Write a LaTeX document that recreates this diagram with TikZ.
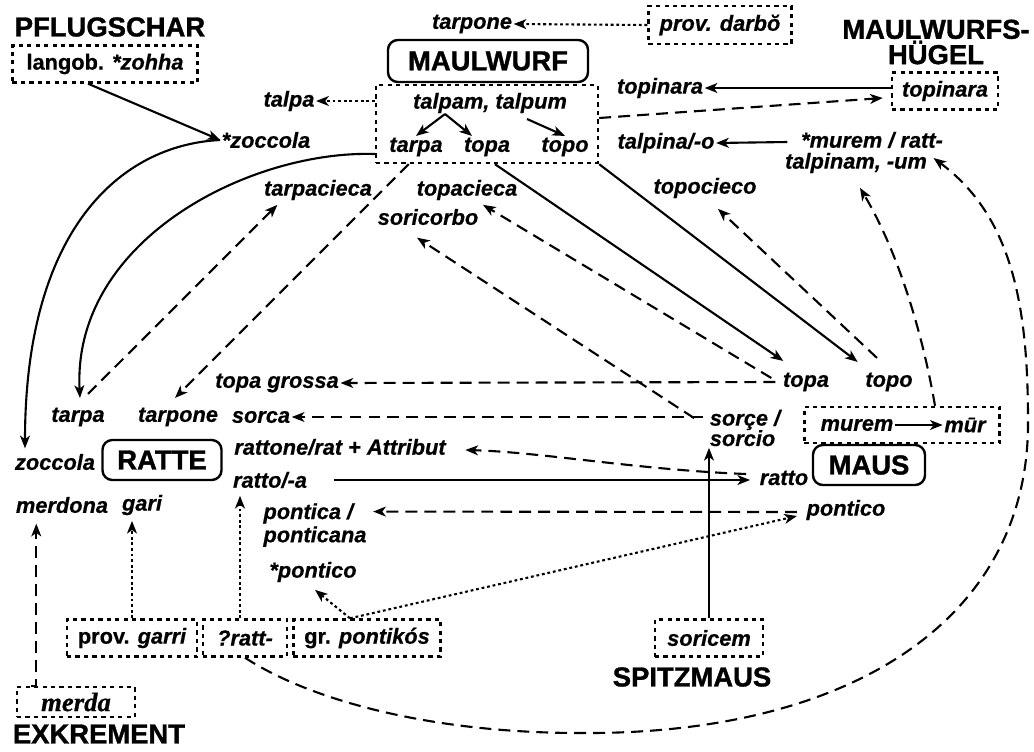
\documentclass[tikz,border=0pt]{standalone}
\usepackage{fontspec}
\setmainfont{Liberation Sans}
\newfontfamily\labelfont[FakeBold=0.6]{Liberation Sans}
\newfontfamily\headfont[FakeBold=1.2]{Liberation Sans}
\newfontfamily\serifit[FakeBold=0.6]{Liberation Serif}
\usetikzlibrary{arrows.meta,calc}

\begin{document}
\begin{tikzpicture}[x=0.025cm,y=-0.025cm,
  lbl/.style={font=\labelfont\bfseries\itshape\fontsize{15.5}{16.5}\selectfont, inner sep=1pt},
  head/.style={font=\headfont\bfseries\fontsize{19.5}{18}\selectfont, inner sep=0pt},
  wbox/.style={draw, line width=1.7pt, rounded corners=7pt, inner sep=0pt,
    font=\headfont\bfseries\fontsize{19.5}{22}\selectfont},
  dbox/.style={draw, line width=1.7pt, dash pattern=on 3pt off 3pt, inner sep=0pt,
    font=\labelfont\bfseries\fontsize{15.5}{16.5}\selectfont},
  arr/.style={line width=1.5pt, -{Stealth[length=9pt,width=7pt,inset=2.5pt]}},
  dasharr/.style={arr, dash pattern=on 8.5pt off 5pt},
  dotarr/.style={arr, dash pattern=on 2pt off 2pt}]
\useasboundingbox (0,0) rectangle (1034,751);

% headings
\node[head] (pflug) at (110,27) {PFLUGSCHAR};
\node[head, align=center] (huegel) at (936,42) {MAULWURFS-\\HÜGEL};
\node[head] (exkr) at (99,734) {EXKREMENT};
\node[head] (spitz) at (692,677) {SPITZMAUS};

% main words
\node[wbox, minimum width=5cm, minimum height=1.05cm] (maulwurf) at (488,61) {MAULWURF};
\node[wbox, minimum width=2.975cm, minimum height=1cm] (ratte) at (162,460) {RATTE};
\node[wbox, minimum width=2.8cm, minimum height=1cm] (maus) at (869,465) {MAUS};

% source forms
\node[dbox, minimum width=4.625cm, minimum height=0.925cm] (langob) at (105,64) {langob. \itshape *zohha};
\node[dbox, minimum width=3.575cm, minimum height=0.95cm] (darbo) at (720,25) {\itshape prov. darbŏ};
\node[dbox, minimum width=2.65cm, minimum height=0.925cm] (topbox) at (945,91) {\itshape topinara};
\node[dbox, minimum width=5.55cm, minimum height=1.95cm] (grp) at (487,124) {};
\node[dbox, minimum width=4.875cm, minimum height=0.9cm] (murbox) at (902,425) {};
\node[dbox, minimum width=3.25cm, minimum height=0.925cm] (garri) at (132,638) {prov. \itshape garri};
\node[dbox, minimum width=2.1cm, minimum height=0.925cm] (ratt) at (245,638) {\itshape ?ratt-};
\node[dbox, minimum width=3.675cm, minimum height=0.925cm] (pontikos) at (367,638) {gr. \itshape pontikós};
\node[dbox, minimum width=2.95cm, minimum height=0.75cm] (merda) at (76,702) {\serifit\bfseries\itshape\fontsize{19}{20}\selectfont merda};
\node[dbox, minimum width=2.7cm, minimum height=0.925cm] (soricem) at (709,638) {\itshape soricem};

% word forms
\node[lbl] (tarpone1) at (472,24) {tarpone};
\node[lbl] (talpa) at (289,101) {talpa};
\node[lbl] (talpam) at (490,103) {talpam, talpum};
\node[lbl] (tarpaG) at (416,147) {tarpa};
\node[lbl] (topaG) at (487,147) {topa};
\node[lbl] (topoG) at (565,147) {topo};
\node[lbl] (zoccolaS) at (266,140) {*zoccola};
\node[lbl] (topinaraL) at (660,88) {topinara};
\node[lbl] (talpina) at (666,143) {talpina/-o};
\node[lbl] (murem1) at (872,140) {*murem / ratt-};
\node[lbl] (talpinam) at (856,163) {talpinam, -um};
\node[lbl] (tarpacieca) at (318,190) {tarpacieca};
\node[lbl] (topacieca) at (467,190) {topacieca};
\node[lbl] (soricorbo) at (428,217) {soricorbo};
\node[lbl] (topocieco) at (705,188) {topocieco};
\node[lbl] (topaR) at (806,382) {topa};
\node[lbl] (topoR) at (889,382) {topo};
\node[lbl] (topagrossa) at (277,383) {topa grossa};
\node[lbl] (tarpaL) at (78,417) {tarpa};
\node[lbl] (tarponeL) at (178,417) {tarpone};
\node[lbl] (sorca) at (261,417) {sorca};
\node[lbl, align=left, font=\labelfont\bfseries\itshape\fontsize{15.5}{14.5}\selectfont] (sorce) at (745,428) {sorçe /\\sorcio};
\node[lbl] (zoccola) at (55,462) {zoccola};
\node[lbl] (rattone) at (340,447) {rattone/rat + Attribut};
\node[lbl] (rattoa) at (270,480) {ratto/-a};
\node[lbl] (rattoR) at (784,478) {ratto};
\node[lbl] (merdona) at (62,505) {merdona};
\node[lbl] (gari) at (142,505) {gari};
\node[lbl, align=left] (pontica) at (315,525) {pontica /\\ponticana};
\node[lbl] (ponticoR) at (846,510) {pontico};
\node[lbl] (ponticoS) at (313,572) {*pontico};
\node[lbl] (muremI) at (857,425) {murem};
\node[lbl] (murI) at (965,425) {mūr};

% branching inside the MAULWURF group
\coordinate (tp1) at (445,114);
\coordinate (tp2) at (527,119);
\draw[arr] (tp1) -- (tarpaG.north);
\draw[arr] (tp1) -- ($(topaG.north)+(-15,0)$);
\draw[arr] (tp2) -- (topoG.north);

% connectors in the upper part
\draw[dotarr] (darbo.west) -- (tarpone1.east);
\draw[dotarr] (grp.west |- talpa.east) -- (talpa.east);
\draw[arr] ($(langob.south)+(-17,0)$) -- (zoccolaS.west);
\draw[arr] (topbox.west |- topinaraL.east) -- (topinaraL.east);
\draw[dasharr] ($(grp.east)+(0,-6)$) -- ($(topbox.west)+(-8,7)$);
\draw[arr] ($(murem1.west)+(-12,2)$) -- (talpina.east);

% long curves on the left
\draw[arr] (zoccolaS.west) .. controls (120,145) and (25,230) .. ($(zoccola.north)+(-30,-4)$);
\draw[arr] ($(grp.west)+(0,30)$) .. controls (250,150) and (72,240) .. ($(tarpaL.north)+(2,-8)$);

% diagonals
\draw[dasharr] ($(tarpaL.north)+(10,-12)$) -- ($(tarpacieca.south west)+(15,3)$);
\draw[dasharr] ($(grp.south west)+(34,0)$) -- ($(tarponeL.north)+(-3,-8)$);
\draw[arr] ($(grp.south)+(8,0)$) -- ($(topaR.north west)+(2,-10)$);
\draw[arr] (grp.south east) -- ($(topoR.north west)+(-6,-9)$);
\draw[dasharr] ($(topoR.north)+(-12,-13)$) -- ($(topocieco.south)+(13,9)$);
\draw[dasharr] ($(topaR.west)+(-10,-4)$) -- ($(topacieca.south)+(16,3)$);
\draw[dasharr] ($(sorce.north west)+(-14,10)$) -- ($(soricorbo.south)+(-11,11)$);

% horizontals in the middle
\draw[dasharr] ($(topaR.west)+(-6,0)$) -- (topagrossa.east);
\draw[dasharr] ($(sorca.east -| sorce.west)+(-5,0)$) -- (sorca.east);
\draw[dasharr] ($(rattoR.west)+(-12,-4)$) .. controls (640,470) and (540,452) .. ($(rattone.east)+(18,3)$);
\draw[arr] ($(rattoa.east)+(25,0)$) -- ($(rattoR.west)+(-8,2)$);
\draw[dasharr] ($(ponticoR.west)+(-8,2)$) -- ($(pontica.north east)+(5,10)$);
\draw[dotarr] ($(pontikos.north)+(-17,0)$) -- ($(ponticoR.west)+(-8,6)$);
\draw[dotarr] ($(pontikos.north)+(-17,0)$) -- ($(ponticoS.south)+(2,6)$);
\draw[arr] (muremI.east) -- (murI.west);

% verticals from the bottom
\draw[arr] (soricem.north) -- (soricem.north |- sorce.south);
\draw[dotarr] (garri.north) -- ($(garri.north |- gari.south)+(0,4)$);
\draw[dotarr] ($(ratt.north)+(-5,0)$) -- ($(ratt.north |- rattoa.south)+(-5,6)$);
\draw[dasharr] ($(merda.north west)+(15,0)$) -| ($(merdona.south west)+(22,9)$);

% right-hand curves
\draw[dasharr] ($(murbox.north)+(33,0)$) .. controls (922,330) and (897,250) .. ($(talpinam.south)+(4,13)$);
\draw[dasharr] (ratt.south) .. controls (310,700) and (430,733) .. (580,733)
  .. controls (850,735) and (1030,620) .. (1028,420)
  .. controls (1028,300) and (1010,215) .. ($(talpinam.east)+(5,-5)$);
\end{tikzpicture}
\end{document}
